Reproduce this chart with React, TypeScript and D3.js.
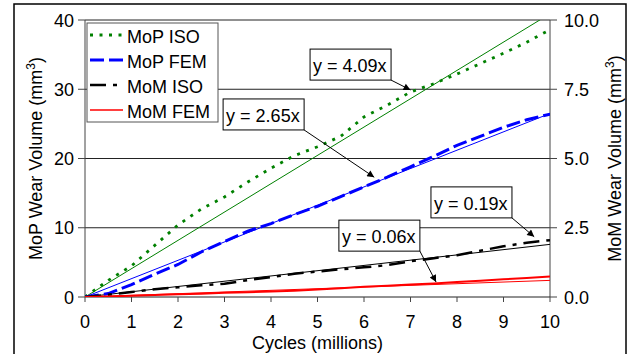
import React from "react";
import * as d3 from "d3";

// cycles in millions
const cycles = [0, 0.5, 1, 1.5, 2, 2.5, 3, 3.5, 4, 4.5, 5, 5.5, 6, 6.5, 7, 7.5, 8, 8.5, 9, 9.5, 10];

// MoP wear volume (mm3) - left axis
const mopIso = [0, 2.4, 4.5, 7.45, 10.4, 12.7, 14.45, 16.6, 18.6, 20.4, 21.7, 23.2, 26.0, 27.7, 29.6, 30.8, 32.2, 33.7, 35.2, 36.8, 38.6];
const mopFem = [0, 0.5, 1.8, 3.3, 4.7, 6.5, 8.0, 9.5, 10.6, 11.9, 13.1, 14.5, 15.9, 17.3, 18.8, 20.3, 21.9, 23.2, 24.5, 25.6, 26.4];

// MoM wear volume (mm3) - right axis
const momIso = [0, 0.08, 0.18, 0.28, 0.35, 0.42, 0.48, 0.61, 0.72, 0.84, 0.92, 1.0, 1.07, 1.15, 1.29, 1.4, 1.51, 1.67, 1.83, 1.96, 2.05];
const momFem = [0, 0.02, 0.045, 0.07, 0.095, 0.12, 0.15, 0.17, 0.2, 0.23, 0.27, 0.32, 0.37, 0.41, 0.45, 0.49, 0.54, 0.59, 0.64, 0.69, 0.74];

const xTicks = [0, 1, 2, 3, 4, 5, 6, 7, 8, 9, 10];
const leftTicks = [0, 10, 20, 30, 40];
const rightTicks = [0, 2.5, 5, 7.5, 10];

const legendLabels = ["MoP ISO", "MoP FEM", "MoM ISO", "MoM FEM"];

// trend line slopes (y = kx)
const slopes = [4.09, 2.65, 0.19, 0.06];

// annotation boxes (left-axis units) and arrow tips
const notes = [
  { label: "y = 4.09x", bx: 4.84, by: 35.8, tx: 7.0, ty: 29.9 },
  { label: "y = 2.65x", bx: 2.97, by: 28.6, tx: 6.22, ty: 17.3 },
  { label: "y = 0.19x", bx: 7.44, by: 15.9, tx: 9.66, ty: 8.7 },
  { label: "y = 0.06x", bx: 5.46, by: 11.1, tx: 7.55, ty: 2.16 },
];

const W = 631;
const H = 354;
const margin = { top: 20, right: 81, bottom: 57, left: 85 };
const FONT = "'Liberation Sans', Arial, sans-serif";

const styles = [
  { color: "#008000", dash: "3,6.5", width: 2.8, axis: "left" },
  { color: "#0000ff", dash: "14,5", width: 3, axis: "left" },
  { color: "#000000", dash: "16,7,4,7", width: 2.5, axis: "right" },
  { color: "#ff0000", dash: null, width: 2, axis: "right" },
];

export default function App() {
  const x = d3.scaleLinear().domain([0, 10]).range([margin.left, W - margin.right]);
  const yL = d3.scaleLinear().domain([0, 40]).range([H - margin.bottom, margin.top]);
  const yR = d3.scaleLinear().domain([0, 10]).range([H - margin.bottom, margin.top]);

  const series = [mopIso, mopFem, momIso, momFem];
  const line = (vals: number[], y: d3.ScaleLinear<number, number>) =>
    d3
      .line<number>()
      .x((_, i) => x(cycles[i]))
      .y((d) => y(d))(vals) as string;

  const x0 = margin.left;
  const x1 = W - margin.right;
  const yBottom = H - margin.bottom;

  return (
    <svg
      width={W}
      height={H}
      style={{ position: "absolute", left: 0, top: 0, background: "#fff" }}
      fontFamily={FONT}
    >
      <defs>
        <marker id="arrow" viewBox="0 0 10 10" refX="10" refY="5" markerWidth="9" markerHeight="7" markerUnits="userSpaceOnUse" orient="auto">
          <path d="M0,0 L10,5 L0,10 z" fill="#000" />
        </marker>
        <clipPath id="plot">
          <rect x={x0} y={margin.top} width={x1 - x0} height={yBottom - margin.top} />
        </clipPath>
      </defs>

      {/* outer frame */}
      <rect x={14} y={4} width={612} height={370} fill="none" stroke="#000" strokeWidth={1.5} />

      {/* gridlines */}
      {leftTicks.filter((t) => t > 0).map((t) => (
        <line key={t} x1={x0} x2={x1} y1={yL(t)} y2={yL(t)} stroke="#222" strokeWidth={1} />
      ))}

      {/* axes */}
      <line x1={x0} x2={x0} y1={margin.top} y2={yBottom} stroke="#444" />
      <line x1={x1} x2={x1} y1={margin.top} y2={yBottom} stroke="#444" />
      <line x1={x0} x2={x1} y1={yBottom} y2={yBottom} stroke="#222" />

      {leftTicks.map((t) => (
        <g key={t}>
          <line x1={x0 - 7} x2={x0} y1={yL(t)} y2={yL(t)} stroke="#444" />
          <text x={x0 - 11} y={yL(t) + 6.5} textAnchor="end" fontSize={18}>{t}</text>
        </g>
      ))}
      {rightTicks.map((t) => (
        <g key={t}>
          <line x1={x1} x2={x1 + 7} y1={yR(t)} y2={yR(t)} stroke="#444" />
          <text x={x1 + 14} y={yR(t) + 6.5} fontSize={18}>{d3.format(".1f")(t)}</text>
        </g>
      ))}
      {xTicks.map((t) => (
        <g key={t}>
          <line x1={x(t)} x2={x(t)} y1={yBottom} y2={yBottom + 5} stroke="#444" />
          <text x={x(t)} y={yBottom + 31} textAnchor="middle" fontSize={18}>{t}</text>
        </g>
      ))}

      {/* axis titles */}
      <text x={(x0 + x1) / 2} y={349} textAnchor="middle" fontSize={18}>Cycles (millions)</text>
      <text transform={`translate(42,${(margin.top + yBottom) / 2}) rotate(-90)`} textAnchor="middle" fontSize={18}>
        MoP Wear Volume (mm<tspan dy={-7} fontSize={12}>3</tspan><tspan dy={7}>)</tspan>
      </text>
      <text transform={`translate(621,${(margin.top + yBottom) / 2}) rotate(-90)`} textAnchor="middle" fontSize={18}>
        MoM Wear Volume (mm<tspan dy={-7} fontSize={12}>3</tspan><tspan dy={7}>)</tspan>
      </text>

      <g clipPath="url(#plot)">
        {/* trend lines */}
        {slopes.map((k, i) => {
          const y = styles[i].axis === "left" ? yL : yR;
          return (
            <line key={i} x1={x(0)} y1={y(0)} x2={x(10)} y2={y(k * 10)} stroke={styles[i].color} strokeWidth={1} />
          );
        })}
        {/* data */}
        {series.map((vals, i) => (
          <path
            key={i}
            d={line(vals, styles[i].axis === "left" ? yL : yR)}
            fill="none"
            stroke={styles[i].color}
            strokeWidth={styles[i].width}
            strokeDasharray={styles[i].dash ?? undefined}
          />
        ))}
      </g>

      {/* annotations */}
      {notes.map((n) => {
        const bx = x(n.bx);
        const by = yL(n.by);
        const bw = 81;
        const bh = 31;
        return (
          <g key={n.label}>
            <line x1={bx + bw} y1={by + bh} x2={x(n.tx)} y2={yL(n.ty)} stroke="#000" strokeWidth={1} markerEnd="url(#arrow)" />
            <rect x={bx} y={by} width={bw} height={bh} fill="#fff" stroke="#000" strokeWidth={1} />
            <text x={bx + 3} y={by + 23} fontSize={18}>{n.label}</text>
          </g>
        );
      })}

      {/* legend */}
      <rect x={87} y={23} width={131} height={99} fill="#fff" stroke="#555" strokeWidth={1} />
      {legendLabels.map((lab, i) => {
        const ly = 35 + i * 25;
        return (
          <g key={lab}>
            <line x1={90} x2={123} y1={ly} y2={ly} stroke={styles[i].color} strokeWidth={i === 3 ? 1.5 : styles[i].width} strokeDasharray={styles[i].dash ?? undefined} />
            <text x={127} y={ly + 8} fontSize={18}>{lab}</text>
          </g>
        );
      })}
    </svg>
  );
}
